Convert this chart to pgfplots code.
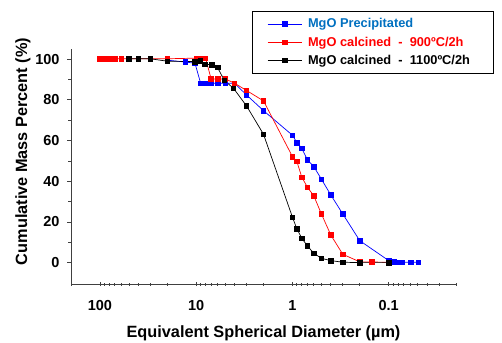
\documentclass[border=0pt]{standalone}
\usepackage{fontspec}
\setmainfont{Liberation Sans}
\usepackage{pgfplots}
\pgfplotsset{compat=1.18}
\definecolor{pblue}{RGB}{0,0,255}
\definecolor{legblue}{RGB}{0,112,192}
\definecolor{pred}{RGB}{255,0,0}
\begin{document}
\begin{tikzpicture}
\begin{axis}[
 scale only axis, width=385pt, height=235pt,
 xmode=log, x dir=reverse, xmin=0.02, xmax=200,
 ymin=-10.5, ymax=105,
 axis lines=left, axis line style={black!75, line width=0.9pt, -},
 xtick={100,10,1,0.1}, xticklabels={100,10,1,0.1},
 minor xtick={0.02,0.03,0.04,0.05,0.06,0.07,0.08,0.09,0.2,0.3,0.4,0.5,0.6,0.7,0.8,0.9,2,3,4,5,6,7,8,9,20,30,40,50,60,70,80,90,200},
 ytick={0,20,40,60,80,100}, minor ytick={10,30,50,70,90},
 tick style={black!75, line width=0.8pt},
 major tick length=4pt, minor tick length=3pt,
 ytick align=outside, xtick align=center,
 tick label style={font=\fontsize{14.5}{16}\selectfont\bfseries},
 xticklabel style={yshift=-11pt},
 yticklabel style={xshift=-4pt},
 /pgf/number format/assume math mode=true,
 xlabel={Equivalent Spherical Diameter (µm)},
 ylabel={Cumulative Mass Percent (\%)},
 label style={font=\fontsize{16.3}{18}\selectfont\bfseries},
 xlabel style={at={(rel axis cs:0.5,-0.21)}, anchor=center},
 ylabel style={at={(rel axis cs:-0.125,0.564)}, anchor=center},
 legend style={at={(rel axis cs:0.470,1.163)}, anchor=north west, draw=black, line width=0.8pt, fill=white,
   inner xsep=15pt, inner ysep=5.5pt, font=\fontsize{12.8}{14}\selectfont\bfseries, row sep=3.5pt,
   /tikz/every odd column/.append style={column sep=4pt}},
 legend cell align=left,
 legend image code/.code={\draw[mark repeat=2,mark phase=2] plot coordinates {(0pt,0pt) (17pt,0pt) (34pt,0pt)};},
 clip=false,
]
\addplot[color=pblue, line width=0.7pt, mark=square*, mark size=2.3pt, mark options={solid}] coordinates {
 (20,99.5) (13,98.6) (10.3,98) (9,88.2) (8,88.2) (7,88.2) (6,88.2) (5,88.2) (4,88.2)
 (3,82.4) (2,74.7) (1,62.6) (0.9,59) (0.8,56.2) (0.7,50.5) (0.6,47.2) (0.5,41) (0.4,33.3)
 (0.3,23.9) (0.2,10.8) (0.1,1.0) (0.089,0.3) (0.082,0.2) (0.073,0.2) (0.059,0.2) (0.049,0.2)
};
\addlegendentry{\textcolor{legblue}{MgO Precipitated}}
\addplot[color=pred, line width=0.7pt, mark=square*, mark size=2.3pt, mark options={solid}] coordinates {
 (100,100.2) (90,100.2) (80,100.2) (70,100.2) (60,100.2) (20,100.2) (10,100.5) (9,100.5) (8,100.5)
 (7,90.3) (6,90.3) (5,90.3) (4,88.2) (3,84.6) (2,79.5) (1,52.1) (0.9,49.7) (0.8,42) (0.7,37.1)
 (0.6,32.8) (0.5,23.9) (0.4,13.6) (0.3,4.1) (0.2,0.4) (0.15,0.3) (0.1,0.2)
};
\addlegendentry{\textcolor{pred}{MgO calcined\ \ -\ \ 900ºC/2h}}
\addplot[color=black, line width=0.7pt, mark=square*, mark size=2.3pt, mark options={solid}] coordinates {
 (50,100.2) (40,100.2) (30,100.2) (20,99) (10.3,98.8) (9.1,99.2) (8.1,97.5) (6.9,97.2) (6,95.9)
 (5.1,89.5) (4.1,85.7) (3,77) (2,63.1) (1,22.3) (0.9,16.6) (0.8,12) (0.7,8.2) (0.6,4.6) (0.5,2.1)
 (0.4,1.0) (0.3,0.2) (0.2,0) (0.1,0)
};
\addlegendentry{MgO calcined\ \ -\ \ 1100ºC/2h\kern6pt}
\coordinate (sw) at (rel axis cs:0,0);
\end{axis}
\pgfresetboundingbox
\path (sw) ++(-71pt,-58pt) rectangle ++(502pt,342pt);
\end{tikzpicture}
\end{document}
